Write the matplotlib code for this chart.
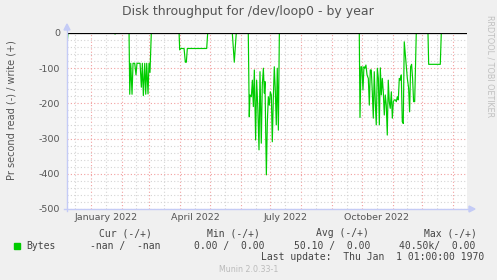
import numpy as np
import matplotlib
matplotlib.use("Agg")
import matplotlib.pyplot as plt
import matplotlib.dates as mdates
from matplotlib.ticker import MultipleLocator, FuncFormatter
from matplotlib.patches import Rectangle, Polygon

plt.rcParams['axes.unicode_minus'] = False
plt.rcParams['font.family'] = ['DejaVu Sans']

# days since 2022-01-01, and bytes/s read (plotted negative)
days = [-23.9, -22.9, 23.5, 24.5, 25.5,
        38.6, 39.3, 40.3, 41.6, 42.6, 44.3, 45.6, 46.6, 49.7, 51.0, 52.0, 53.0,
        54.4, 55.4, 56.4, 57.7, 58.7, 59.7, 61.0,
        89.0, 89.6, 90.9, 94.0, 95.3, 96.3, 97.3, 116.8, 117.8,
        142.6, 144.6, 146.6,
        158.7, 159.7, 160.4, 161.8, 162.8, 163.8, 164.8, 166.1, 167.1, 168.2,
        169.5, 170.5, 171.8, 172.8, 173.9, 174.9, 175.5, 176.9, 177.9, 178.9,
        179.9, 180.9, 181.9, 182.9, 183.9, 184.9, 185.9, 186.9, 187.9, 189.0, 190.0,
        270.5, 271.2, 272.2, 273.2, 274.2, 275.2, 276.2, 277.2, 278.3, 279.6,
        280.6, 281.6, 282.6, 283.6, 284.6, 285.6, 286.6, 287.6, 288.7, 289.7,
        290.7, 291.7, 292.7, 293.7, 294.7, 295.7, 296.7, 297.7, 298.7, 299.7,
        300.7, 301.7, 302.8, 303.8, 304.8, 305.8, 306.8, 307.8, 308.8, 309.8,
        310.8, 311.8, 312.8, 313.8, 314.8, 315.8, 316.9, 317.9, 318.9, 320.2,
        321.2, 322.2, 323.2, 324.2, 325.2, 326.3, 327.3, 327.9,
        339.7, 340.4, 352.1, 353.1]
read = [-35, 0, 0, -3, 0,
        0, -174, -86, -174, -86, -86, -119, -86, -86, -154, -86, -178,
        -86, -174, -86, -173, -86, -112, 0,
        0, -48, -44, -44, -83, -83, -44, -44, 0,
        0, -83, 0,
        0, -238, -176, -181, -134, -209, -105, -304, -134, -205,
        -332, -110, -313, -148, -100, -171, -138, -403, -252, -181,
        -205, -167, -176, -309, -186, -96, -162, -261, -100, -276, 0,
        0, -240, -96, -96, -162, -96, -100, -91, -119, -129,
        -205, -105, -105, -167, -242, -110, -195, -261, -100, -129,
        -261, -99, -176, -129, -167, -233, -176, -205, -290, -134,
        -195, -214, -167, -242, -195, -190, -190, -195, -181, -190,
        -129, -134, -119, -252, -257, -25, -63, -100, -129, -157,
        -224, -96, -89, -129, -195, -195, -72, 0,
        0, -89, -89, 0]

legend_cols = ["Cur (-/+)", "Min (-/+)", "Avg (-/+)", "Max (-/+)"]
legend_vals = ["-nan /  -nan", "0.00 /  0.00", "50.10 /  0.00", "40.50k/  0.00"]

W, H = 497, 280
fig = plt.figure(figsize=(W / 100, H / 100), dpi=100, facecolor='#f0f0f0')
L, R, T, B = 67, 467, 33, 209
ax = fig.add_axes([L / W, 1 - B / H, (R - L) / W, (B - T) / H])
ax.set_facecolor('white')

base = mdates.date2num(np.datetime64('2022-01-01'))
x = base + np.array(days)
ax.plot(x, read, color='#00cc00', lw=0.85, zorder=3)
ax.axhline(0, color='black', lw=0.9, zorder=4)

ax.set_xlim(base - 23.9, base + 379.0)
ax.set_ylim(-500, 0)

ax.xaxis.set_major_locator(mdates.MonthLocator(bymonthday=1))
ax.xaxis.set_minor_locator(mdates.MonthLocator(bymonthday=16))
ax.xaxis.set_major_formatter(FuncFormatter(lambda v, p: ''))


def month_label(v, p):
    d = mdates.num2date(v)
    return d.strftime('%B %Y') if d.month in (1, 4, 7, 10) else ''


ax.xaxis.set_minor_formatter(FuncFormatter(month_label))
ax.yaxis.set_major_locator(MultipleLocator(100))
ax.yaxis.set_minor_locator(MultipleLocator(20))

ax.grid(True, which='major', color='#f2a0a0', lw=0.8, ls=(0, (1, 2)))
ax.grid(True, which='minor', color='#d4d4d4', lw=0.8, ls=(0, (1, 2)))
ax.set_axisbelow(True)

ax.tick_params(which='both', length=0, labelsize=6.8, labelcolor='#555555')
ax.tick_params(axis='y', pad=5)
ax.tick_params(axis='x', which='minor', pad=3)
for s in ax.spines.values():
    s.set_visible(False)

# axes with arrows
acol = '#c4cbf6'
fig.add_artist(plt.Line2D([L / W, L / W], [1 - (B + 2) / H, 1 - 29 / H], color=acol, lw=1))
fig.add_artist(plt.Line2D([(L - 3) / W, 470 / W], [1 - B / H, 1 - B / H], color=acol, lw=1))
fig.add_artist(Polygon([[(L - 3) / W, 1 - 30 / H], [(L + 3) / W, 1 - 30 / H], [L / W, 1 - 24 / H]],
                       closed=True, color=acol, transform=fig.transFigure))
fig.add_artist(Polygon([[469 / W, 1 - (B - 3) / H], [469 / W, 1 - (B + 3) / H], [475 / W, 1 - B / H]],
                       closed=True, color=acol, transform=fig.transFigure))

fig.text(248 / W, 1 - 12 / H, "Disk throughput for /dev/loop0 - by year",
         ha='center', va='center', fontsize=9, color='#555555')
fig.text(11.7 / W, 1 - 110 / H, "Pr second read (-) / write (+)", rotation=90,
         ha='center', va='center', fontsize=7, color='#555555')
fig.text(489.7 / W, 1 - 66 / H, "RRDTOOL / TOBI OETIKER", rotation=270,
         ha='center', va='center', fontsize=5.8, color='#c0c0c0')

mono = dict(family='DejaVu Sans Mono', fontsize=7, color='#444444', va='center', ha='left')
for lab, px in zip(legend_cols, [98.7, 207.3, 316, 423.7]):
    fig.text(px / W, 1 - 233.3 / H, lab, **mono)
fig.add_artist(Rectangle((14 / W, 1 - 248.5 / H), 6 / W, 6 / H, color='#00cc00',
                         transform=fig.transFigure))
fig.text(26.7 / W, 1 - 245.7 / H, "Bytes", **mono)
for lab, px in zip(legend_vals, [90, 194.3, 293.7, 398.7]):
    fig.text(px / W, 1 - 245.7 / H, lab, **mono)
fig.text(261.3 / W, 1 - 257.3 / H, "Last update:  Thu Jan  1 01:00:00 1970", **mono)
fig.text(219 / W, 1 - 269 / H, "Munin 2.0.33-1", ha='left', va='center',
         fontsize=5.7, color='#bbbbbb')

fig.savefig('out.png', dpi=100, facecolor=fig.get_facecolor())
